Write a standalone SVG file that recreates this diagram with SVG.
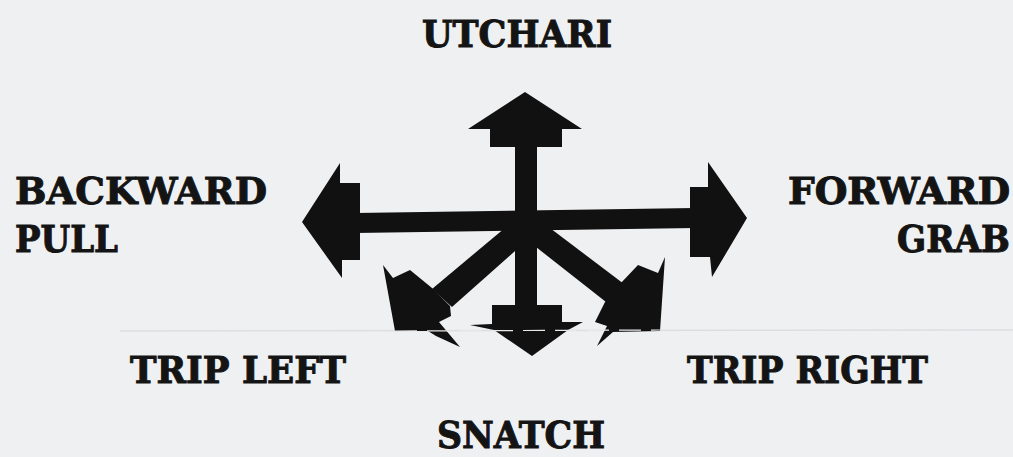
<svg xmlns="http://www.w3.org/2000/svg" width="1013" height="457" viewBox="0 0 1013 457">
<style>
.lbl{font-family:"DejaVu Serif","Liberation Serif",serif;font-weight:bold;font-stretch:condensed;font-size:37px;fill:#141414;stroke:#141414;stroke-width:0.9px}
.ink{fill:#111111}
</style>
<rect width="1013" height="457" fill="#eff0f2"/>
<line x1="120" y1="331" x2="1013" y2="330" stroke="#dedee1" stroke-width="1.5"/>
<g id="connectors">
  <rect class="ink" x="515" y="140" width="22" height="170"/>
  <polygon class="ink" points="355,213 355,233 695,228 695,208"/>
  <polygon class="ink" points="512,222 532,236 452,307 432,289"/>
  <polygon class="ink" points="522,236 542,222 624,284 606,302"/>
  <polygon class="ink" points="525,92 582,129 562,129 562,147 490,147 490,129 468,129"/>
  <polygon class="ink" points="340,163 340,183 360,183 360,260 342,260 342,278 302,222"/>
  <polygon class="ink" points="708,162 747,218 712,277 710,257 690,257 690,187 708,187"/>
  <polygon class="ink" points="492,305 562,305 562,322 583,322 568,330 532,356 494,330 470,325 492,324"/>
  <polygon class="ink" points="383,265 393,278 410,270 432,288 450,306 451,316 439,322 460,347 436,336 428,331 395,331"/>
  <polygon class="ink" points="665,257 660,331 613,332 597,346 607,326 595,322 605,302 620,284 638,265 658,273"/>
  <line x1="395" y1="331" x2="660" y2="330" stroke="#e8e8ea" stroke-width="1.2" stroke-dasharray="22 10"/>
</g>
<g id="utchari"><text class="lbl" x="422" y="47" font-size="38" textLength="190" lengthAdjust="spacingAndGlyphs">UTCHARI</text></g>
<g id="backward-pull">
  <text class="lbl" x="15" y="204" textLength="252" lengthAdjust="spacingAndGlyphs">BACKWARD</text>
  <text class="lbl" x="15" y="252" textLength="103" lengthAdjust="spacingAndGlyphs">PULL</text>
</g>
<g id="forward-grab">
  <text class="lbl" x="788" y="204" textLength="222" lengthAdjust="spacingAndGlyphs">FORWARD</text>
  <text class="lbl" x="897" y="252" textLength="113" lengthAdjust="spacingAndGlyphs">GRAB</text>
</g>
<g id="trip-left"><text class="lbl" x="130" y="383" textLength="216" lengthAdjust="spacingAndGlyphs">TRIP LEFT</text></g>
<g id="trip-right"><text class="lbl" x="687" y="383" textLength="241" lengthAdjust="spacingAndGlyphs">TRIP RIGHT</text></g>
<g id="snatch"><text class="lbl" x="437" y="448" font-size="35" textLength="168" lengthAdjust="spacingAndGlyphs">SNATCH</text></g>
</svg>
